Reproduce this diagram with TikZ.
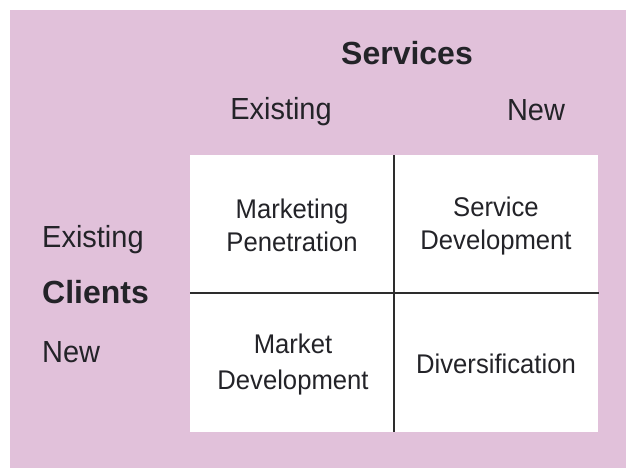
\documentclass[tikz,border=0pt]{standalone}
\usepackage{fontspec}
\setmainfont[FakeStretch=0.95]{Liberation Sans}
\newfontfamily\boldlab[FakeStretch=1.0]{Liberation Sans}
\definecolor{bgpink}{RGB}{225,193,218}
\definecolor{gridline}{RGB}{45,45,45}
\definecolor{inktext}{RGB}{35,35,40}
\begin{document}
\begin{tikzpicture}[x=1pt,y=-1pt,
  axislab/.style={font=\fontsize{30.5}{35}\selectfont, text=inktext, inner sep=0pt},
  headlab/.style={font=\boldlab\bfseries\fontsize{32}{36}\selectfont, text=inktext, inner sep=0pt},
  celltext/.style={font=\fontsize{27}{33}\selectfont, text=inktext, align=center, inner sep=0pt},
  divider/.style={draw=gridline, line width=1.6pt}]
  \useasboundingbox (0,0) rectangle (626,468);
  \fill[white] (0,0) rectangle (626,468);
  \fill[bgpink] (10,10) rectangle (626,468);
  % white matrix
  \node[fill=white, inner sep=0pt, minimum width=408pt, minimum height=277pt, anchor=north west] (grid) at (190,155) {};
  \coordinate (vtop) at (394,155);
  \coordinate (vbot) at (394,432);
  \coordinate (hl) at (190,293);
  \coordinate (hr) at (599,293);
  \draw[divider] (vtop) -- (vbot);
  \draw[divider] (hl) -- (hr);
  % headings
  \node[headlab, anchor=base] (services) at (407,65) {Services};
  \node[axislab, anchor=base] (sexist) at (281,120) {Existing};
  \node[axislab, anchor=base] (snew) at (536,121) {New};
  \node[axislab, anchor=base west] (cexist) at (42,247) {Existing};
  \node[headlab, anchor=base west] (clients) at (42,303) {Clients};
  \node[axislab, anchor=base west] (cnew) at (42,362) {New};
  % cells
  \node[celltext] (mp) at (292,225) {Marketing\\Penetration};
  \node[celltext] (sd) at (496,226) {Service\\Development};
  \node[celltext] (md) at (293,365) {Market\\[3pt]Development};
  \node[celltext, anchor=base] (dv) at (496,373) {Diversification};
\end{tikzpicture}
\end{document}
